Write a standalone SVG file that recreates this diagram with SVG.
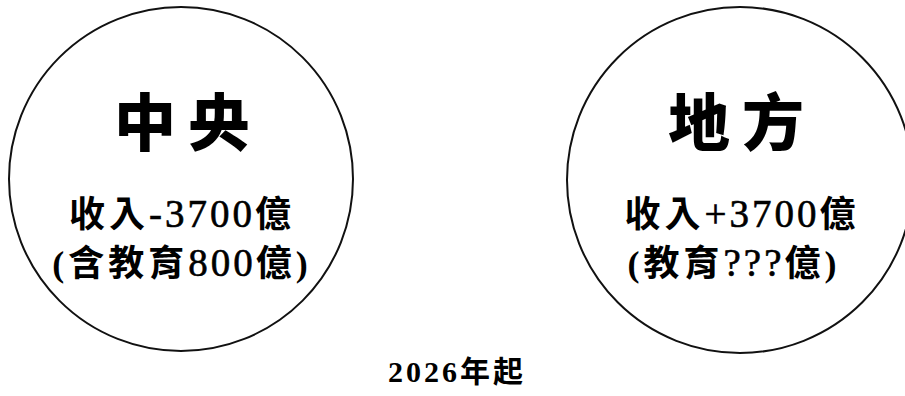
<svg xmlns="http://www.w3.org/2000/svg" width="905" height="396" viewBox="0 0 905 396">
<style>
.ring{fill:none;stroke:#111;stroke-width:2}
.big{font-family:"Noto Sans CJK TC","Noto Sans CJK SC",sans-serif;font-weight:900;font-size:62px;letter-spacing:12px;fill:#000;text-anchor:middle}
.mid{font-family:"Liberation Serif","Noto Sans CJK TC",serif;font-weight:700;font-size:36px;letter-spacing:4px;fill:#000;text-anchor:middle}
.num{font-weight:normal;font-size:39px;letter-spacing:3px;stroke:#000;stroke-width:0.6}
.foot{font-family:"Liberation Serif","Noto Sans CJK TC",serif;font-weight:bold;font-size:30px;letter-spacing:3px;fill:#000;text-anchor:middle}
</style>
<rect width="905" height="396" fill="#fff"/>
<g id="central">
<circle class="ring" cx="181" cy="179" r="172"/>
<text class="big" x="188" y="146">中央</text>
<text class="mid" x="182" y="227">收入<tspan class="num">-3700</tspan>億</text>
<text class="mid" x="182" y="276">(含教育<tspan class="num">800</tspan>億)</text>
</g>
<g id="local">
<circle class="ring" cx="740" cy="180" r="173"/>
<text class="big" x="742" y="146">地方</text>
<text class="mid" x="742" y="227">收入<tspan class="num">+3700</tspan>億</text>
<text class="mid" x="734" y="276">(教育<tspan class="num">???</tspan>億)</text>
</g>
<g id="connectors"></g>
<text class="foot" x="457" y="382">2026年起</text>
</svg>
